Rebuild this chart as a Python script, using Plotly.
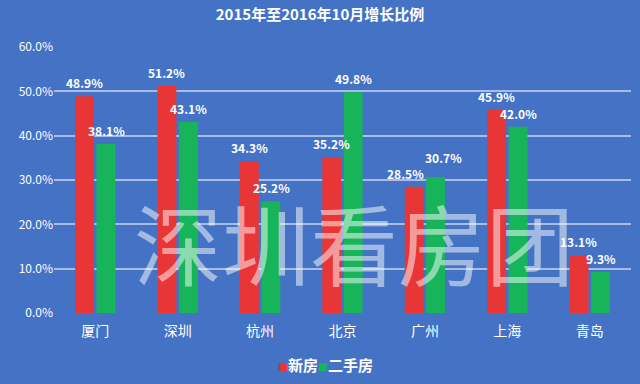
import plotly.graph_objects as go

cities = ["厦门", "深圳", "杭州", "北京", "广州", "上海", "青岛"]
new_home = [48.9, 51.2, 34.3, 35.2, 28.5, 45.9, 13.1]
second_hand = [38.1, 43.1, 25.2, 49.8, 30.7, 42.0, 9.3]
y_ticks = [0, 10, 20, 30, 40, 50, 60]
y_tick_labels = ["0.0%", "10.0%", "20.0%", "30.0%", "40.0%", "50.0%", "60.0%"]
series_names = ["新房", "二手房"]
series_colors = ["#E83535", "#17B45A"]

font_family = "Noto Sans CJK SC, Noto Sans, sans-serif"
bg = "#4472C4"

fig = go.Figure()
for name, vals, col in zip(series_names, [new_home, second_hand], series_colors):
    fig.add_trace(go.Bar(
        x=cities, y=vals, name=name,
        marker=dict(color=col, line=dict(width=0)),
        showlegend=False,
    ))

# data labels as annotations anchored to bar tops (data coords)
bar_shift = 11
for i, c in enumerate(cities):
    a, b = new_home[i], second_hand[i]
    close = abs(a - b) < 3.5
    fig.add_annotation(x=c, y=a, xref="x", yref="y", text=f"<b>{a:.1f}%</b>",
                       showarrow=False, yanchor="bottom",
                       xshift=-bar_shift - (8 if close else 0), yshift=3,
                       font=dict(color="white", size=12, family=font_family))
    fig.add_annotation(x=c, y=b, xref="x", yref="y", text=f"<b>{b:.1f}%</b>",
                       showarrow=False, yanchor="bottom",
                       xshift=bar_shift + (8 if close else 0), yshift=3 + (6 if close and b > a else 0),
                       font=dict(color="white", size=12, family=font_family))

fig.update_layout(
    width=640, height=384,
    paper_bgcolor=bg, plot_bgcolor=bg,
    margin=dict(l=54, r=9, t=47, b=71),
    barmode="group", bargap=0.48, bargroupgap=0.12,
    title=dict(text="<b>2015年至2016年10月增长比例</b>", x=0.5, xanchor="center",
               y=1 - 15 / 384, yanchor="middle",
               font=dict(color="white", size=15, family=font_family)),
    font=dict(family=font_family, color="white"),
    showlegend=False,
    xaxis=dict(showgrid=False, showline=False, zeroline=False,
               ticklabelstandoff=8, automargin=False,
               tickfont=dict(color="white", size=14, family=font_family)),
    yaxis=dict(range=[0, 60], tickvals=y_ticks, ticktext=y_tick_labels,
               showgrid=True, gridcolor="rgba(200,215,240,0.75)", gridwidth=1.5,
               zeroline=False, showline=False, automargin=False,
               tickfont=dict(color="white", size=12, family=font_family)),
)

# legend drawn as text
legend_text = "".join(
    f"<span style='color:{col};font-size:10px'>■</span><b>{name}</b>"
    for name, col in zip(series_names, series_colors)
)
fig.add_annotation(
    text=legend_text, xref="paper", yref="paper", x=0.47, y=-0.195,
    xanchor="center", yanchor="middle", showarrow=False,
    font=dict(size=15, color="white", family=font_family),
)

fig.add_annotation(
    text="深圳看房团", xref="paper", yref="paper", x=0.52, y=0.274,
    xanchor="center", yanchor="middle",
    showarrow=False,
    font=dict(size=88, color="rgba(255,255,255,0.5)", family=font_family),
)

fig.write_html("out.html")
